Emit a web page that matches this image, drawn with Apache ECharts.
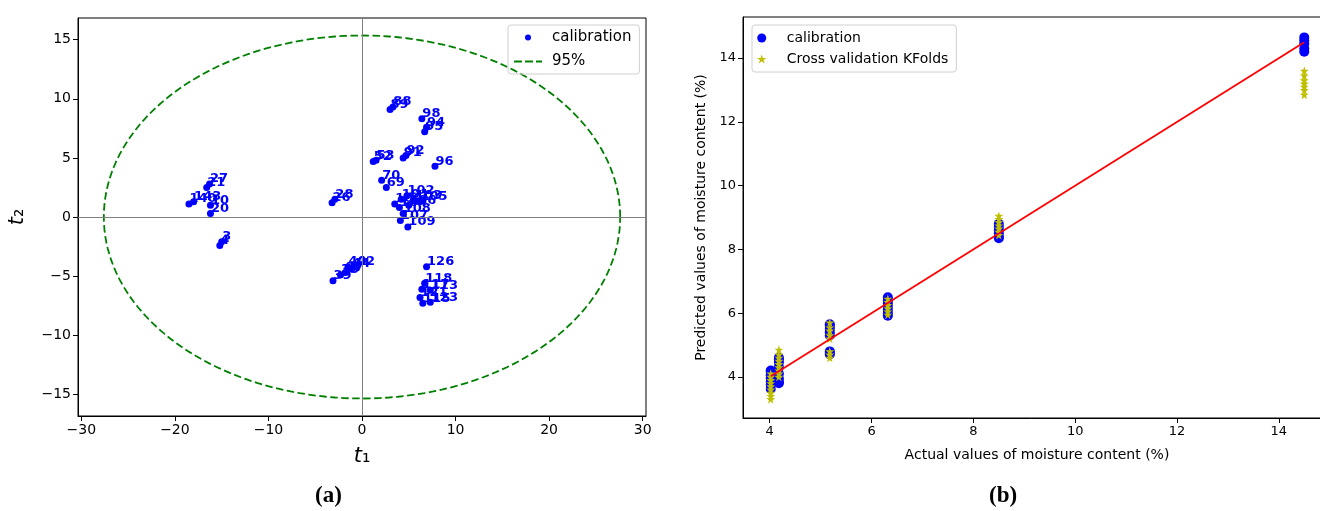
<!DOCTYPE html>
<html>
<head>
<meta charset="utf-8">
<script src="https://cdn.jsdelivr.net/npm/echarts@6/dist/echarts.min.js"></script>
<style>
  html, body { margin: 0; padding: 0; background: #fff; }
  #chart { width: 1320px; height: 511px; }
</style>
</head>
<body>
<div id="chart"></div>
<script>
// (a) PCA scores: t1, t2 and sample ids
const scoreT1 = [-16.6, -16.3, -18.5, -18.0, -16.2, -16.2, -15.2, -15.0, -3.2, -2.9,
  -3.1, -2.3, -1.8, -1.1, -0.6, -1.5, 3.0, 3.3, 6.4, 6.7, 6.9, 1.2, 1.5, 4.4, 4.7, 7.8,
  2.1, 2.6, 3.5, 4.2, 4.8, 5.6, 6.2, 4.0, 5.0, 4.4, 4.1, 4.9, 6.9, 6.4, 6.7, 6.2, 6.5, 7.3, 7.3];
const scoreT2 = [2.5, 2.8, 1.1, 1.3, 1.0, 0.3, -2.4, -2.1, 1.2, 1.5,
  -5.4, -4.9, -4.7, -4.4, -4.2, -4.2, 9.1, 9.3, 8.3, 7.2, 7.6, 4.7, 4.8, 5.0, 5.2, 4.3,
  3.1, 2.5, 1.1, 1.5, 1.8, 1.4, 1.3, 0.8, 1.0, 0.3, -0.3, -0.85, -4.2, -6.1, -5.6, -6.8, -7.3, -6.2, -7.2];
const sampleIds = ["21", "27", "140", "143", "10", "20", "4", "3", "26", "28",
  "39", "35", "37", "44", "42", "40", "89", "88", "98", "95", "94", "52", "53", "91", "92", "96",
  "70", "69", "100", "101", "102", "103", "105", "104", "106", "108", "107", "109", "126", "117", "118", "121", "115", "113", "123"];
// 95% confidence ellipse: centre and semi-axes
const ellipse95 = [0, 0, 27.6, 15.35];
const ticksA_x = [-30, -20, -10, 0, 10, 20, 30];
const ticksA_y = [-15, -10, -5, 0, 5, 10, 15];

// (b) actual vs predicted moisture content
const actualLevels = [4.02, 4.18, 5.18, 6.32, 8.5, 14.5];
const calPred = [
  [3.62, 3.75, 3.85, 3.95, 4.05, 4.15, 4.2],
  [3.8, 3.85, 3.95, 4.1, 4.3, 4.45, 4.55, 4.6],
  [4.7, 4.75, 4.8, 5.3, 5.4, 5.5, 5.6, 5.65],
  [5.92, 6.0, 6.1, 6.2, 6.3, 6.4, 6.5],
  [8.35, 8.4, 8.5, 8.6, 8.7, 8.8],
  [14.2, 14.3, 14.45, 14.55, 14.65]
];
const cvPred = [
  [3.3, 3.4, 3.5, 3.6, 3.7, 3.8, 3.9, 4.0, 4.1],
  [4.0, 4.1, 4.2, 4.3, 4.4, 4.5, 4.6, 4.7, 4.85],
  [4.6, 4.7, 4.8, 5.2, 5.3, 5.45, 5.55, 5.7],
  [5.95, 6.05, 6.15, 6.25, 6.35, 6.45],
  [8.45, 8.55, 8.65, 8.75, 8.85, 8.95, 9.05],
  [12.85, 13.0, 13.1, 13.2, 13.3, 13.45, 13.6]
];
const fitLine = [[4.02, 4.02], [14.5, 14.5]];
const ticksB_x = [4, 6, 8, 10, 12, 14];
const ticksB_y = [4, 6, 8, 10, 12, 14];

const FONT = "DejaVu Sans";
const STAR = "path://M50,0L61.2,34.5L97.6,34.5L68.2,55.9L79.4,90.5L50,69.1L20.6,90.5L31.8,55.9L2.4,34.5L38.8,34.5Z";
const DASH = "path://M0,0H8V2H0Z M11,0H19V2H11Z M22,0H28V2H22Z";

const minus = (v) => (v < 0 ? "\u2212" + -v : String(v));

const scoresData = scoreT1.map((x, i) => [x, scoreT2[i], sampleIds[i]]);
const calData = [];
const cvData = [];
actualLevels.forEach((x, i) => {
  calPred[i].forEach((y) => calData.push([x, y]));
  cvPred[i].forEach((y) => cvData.push([x, y]));
});

function axisCommon(fontSize, ticks, fmt) {
  return {
    axisLine: { show: true, onZero: false, lineStyle: { color: "#000", width: 1 } },
    axisTick: { show: true, length: 5, customValues: ticks, lineStyle: { color: "#000" } },
    axisLabel: {
      customValues: ticks,
      color: "#000",
      fontFamily: FONT,
      fontSize: fontSize,
      margin: 7,
      formatter: fmt || ((v) => String(v))
    },
    splitLine: { show: false }
  };
}

function legendText(fontSize, gap) {
  return {
    fontFamily: FONT, fontSize: fontSize, color: "#000",
    rich: { t: { fontFamily: FONT, fontSize: fontSize, color: "#000", padding: [0, 0, 0, gap] } }
  };
}

const chart = echarts.init(document.getElementById("chart"), null, { renderer: "canvas" });

chart.setOption({
  animation: false,
  backgroundColor: "#fff",
  title: [
    {
      text: "{n|(}{b|a}{n|)}",
      left: 310, top: 480,
      textStyle: { rich: {
        n: { fontFamily: "Liberation Serif", fontSize: 23, color: "#000" },
        b: { fontFamily: "Liberation Serif", fontSize: 23, fontWeight: "bold", color: "#000" }
      } }
    },
    {
      text: "{n|(}{b|b}{n|)}",
      left: 984, top: 480,
      textStyle: { rich: {
        n: { fontFamily: "Liberation Serif", fontSize: 23, color: "#000" },
        b: { fontFamily: "Liberation Serif", fontSize: 23, fontWeight: "bold", color: "#000" }
      } }
    }
  ],
  grid: [
    { left: 78, top: 18, width: 568, height: 398, outerBoundsMode: "none",
      show: true, borderColor: "#000", borderWidth: 1 },
    { left: 743, top: 17, width: 588, height: 401, outerBoundsMode: "none",
      show: true, borderColor: "#000", borderWidth: 1 }
  ],
  legend: [
    {
      orient: "vertical", left: 508, top: 25,
      padding: [5, 8, 5, 6], itemGap: 9,
      itemWidth: 28, itemHeight: 6,
      borderColor: "#d0d0d0", borderWidth: 1, borderRadius: 3,
      formatter: (name) => "{t|" + name.trim() + "}",
      textStyle: legendText(15, 5),
      data: [
        { name: "calibration", icon: "circle", itemStyle: { color: "#0000ff" } },
        { name: "95%", icon: DASH, itemStyle: { color: "#008000" } }
      ]
    },
    {
      orient: "vertical", left: 752, top: 25,
      padding: [6, 8, 6, 5], itemGap: 7,
      itemWidth: 28, itemHeight: 9,
      borderColor: "#d0d0d0", borderWidth: 1, borderRadius: 3,
      formatter: (name) => "{t|" + name.trim() + "}",
      textStyle: legendText(14, 6),
      data: [
        { name: "calibration ", icon: "circle", itemStyle: { color: "#0000ff" } },
        { name: "Cross validation KFolds", icon: STAR, itemStyle: { color: "#bfbf00" } }
      ]
    }
  ],
  xAxis: [
    Object.assign({
      gridIndex: 0, type: "value", min: -30.36, max: 30.36,
      name: "{i|t}{s|\u2081}", nameLocation: "middle", nameGap: 30,
      nameTextStyle: { rich: {
        i: { fontFamily: FONT, fontSize: 21, fontStyle: "italic", color: "#000" },
        s: { fontFamily: FONT, fontSize: 21, color: "#000" }
      } }
    }, axisCommon(14, ticksA_x, minus)),
    Object.assign({
      gridIndex: 1, type: "value", min: 3.475, max: 15.025,
      name: "Actual values of moisture content (%)", nameLocation: "middle", nameGap: 30,
      nameTextStyle: { fontFamily: FONT, fontSize: 14, color: "#000" }
    }, axisCommon(13, ticksB_x))
  ],
  yAxis: [
    Object.assign({
      gridIndex: 0, type: "value", min: -16.83, max: 16.83,
      name: "{i|t}{s|\u2082}", nameLocation: "middle", nameGap: 50,
      nameTextStyle: { rich: {
        i: { fontFamily: FONT, fontSize: 21, fontStyle: "italic", color: "#000" },
        s: { fontFamily: FONT, fontSize: 21, color: "#000" }
      } }
    }, axisCommon(14, ticksA_y, minus)),
    Object.assign({
      gridIndex: 1, type: "value", min: 2.71, max: 15.29,
      name: "Predicted values of moisture content (%)", nameLocation: "middle", nameGap: 35,
      nameTextStyle: { fontFamily: FONT, fontSize: 14, color: "#000" }
    }, axisCommon(13, ticksB_y))
  ],
  series: [
    {
      name: "95%",
      type: "custom",
      xAxisIndex: 0, yAxisIndex: 0,
      silent: true,
      data: [ellipse95],
      renderItem: (params, api) => {
        const cx = api.value(0), cy = api.value(1), a = api.value(2), b = api.value(3);
        const pts = [];
        for (let k = 0; k <= 360; k += 2) {
          const t = (k * Math.PI) / 180;
          pts.push(api.coord([cx + a * Math.cos(t), cy + b * Math.sin(t)]));
        }
        return {
          type: "polyline",
          shape: { points: pts },
          style: { stroke: "#008000", fill: null, lineWidth: 1.8, lineDash: [7.5, 3.5] }
        };
      },
      z: 3
    },
    {
      name: "calibration",
      type: "scatter",
      xAxisIndex: 0, yAxisIndex: 0,
      symbol: "circle", symbolSize: 7,
      itemStyle: { color: "#0000ff", opacity: 1 },
      label: {
        show: true,
        formatter: (p) => p.value[2],
        position: [4, 5],
        align: "left", verticalAlign: "bottom",
        color: "#0000ff", fontFamily: FONT, fontSize: 13, fontWeight: "bold"
      },
      labelLayout: { hideOverlap: false },
      data: scoresData,
      markLine: {
        silent: true, symbol: "none",
        label: { show: false },
        lineStyle: { color: "#808080", width: 1, type: "solid" },
        data: [{ xAxis: 0 }, { yAxis: 0 }]
      },
      z: 4
    },
    {
      name: "calibration ",
      type: "scatter",
      xAxisIndex: 1, yAxisIndex: 1,
      symbol: "circle", symbolSize: 10,
      itemStyle: { color: "#0000ff", opacity: 1 },
      data: calData,
      z: 3
    },
    {
      name: "fit",
      type: "line",
      xAxisIndex: 1, yAxisIndex: 1,
      showSymbol: false,
      lineStyle: { color: "#ff0000", width: 1.8 },
      data: fitLine,
      z: 5
    },
    {
      name: "Cross validation KFolds",
      type: "scatter",
      xAxisIndex: 1, yAxisIndex: 1,
      symbol: STAR, symbolSize: 9,
      itemStyle: { color: "#bfbf00", opacity: 1 },
      data: cvData,
      z: 4
    }
  ]
});
</script>
</body>
</html>
